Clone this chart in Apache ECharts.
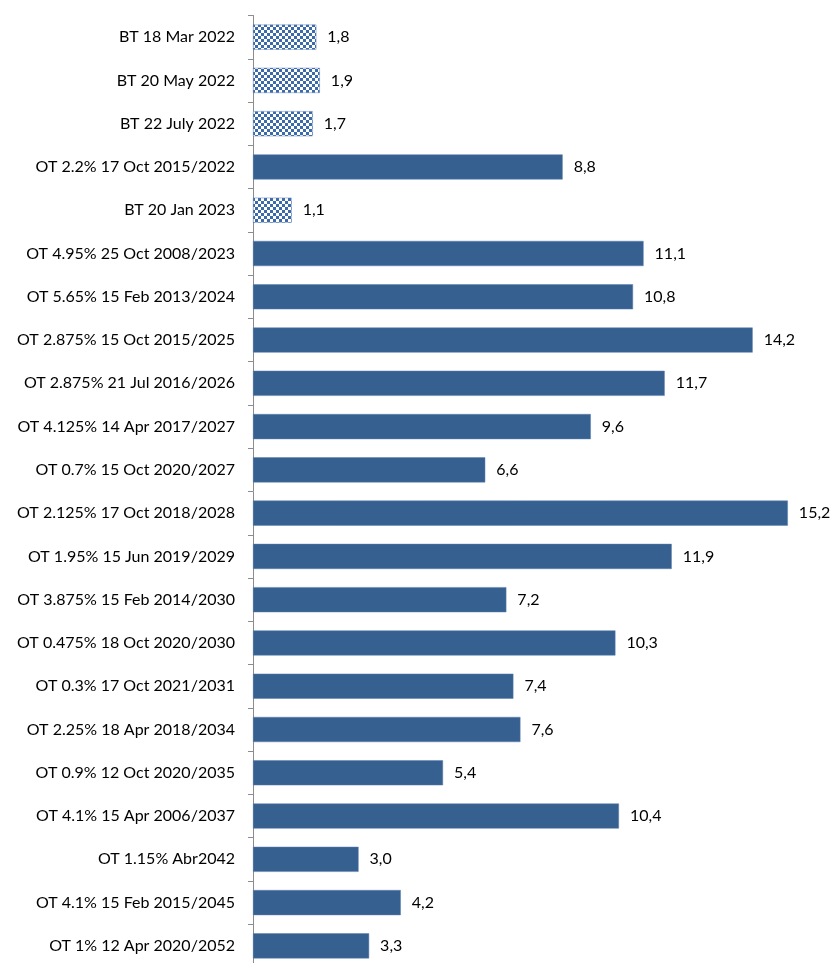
<!DOCTYPE html>
<html>
<head>
<meta charset="utf-8">
<script src="https://cdn.jsdelivr.net/npm/echarts@6/dist/echarts.min.js"></script>
<style>
html, body { margin: 0; padding: 0; background: #ffffff; overflow: hidden; }
#chart { width: 832px; height: 975px; }
</style>
</head>
<body>
<div id="chart"></div>
<script>
// Outstanding amounts by issue
const categories = [
  'BT 18 Mar 2022',
  'BT 20 May 2022',
  'BT 22 July 2022',
  'OT 2.2% 17 Oct 2015/2022',
  'BT 20 Jan 2023',
  'OT 4.95% 25 Oct 2008/2023',
  'OT 5.65% 15 Feb 2013/2024',
  'OT 2.875% 15 Oct 2015/2025',
  'OT 2.875% 21 Jul 2016/2026',
  'OT 4.125% 14 Apr 2017/2027',
  'OT 0.7% 15 Oct 2020/2027',
  'OT 2.125% 17 Oct 2018/2028',
  'OT 1.95% 15 Jun 2019/2029',
  'OT 3.875% 15 Feb 2014/2030',
  'OT 0.475% 18 Oct 2020/2030',
  'OT 0.3% 17 Oct 2021/2031',
  'OT 2.25% 18 Apr 2018/2034',
  'OT 0.9% 12 Oct 2020/2035',
  'OT 4.1% 15 Apr 2006/2037',
  'OT 1.15% Abr2042',
  'OT 4.1% 15 Feb 2015/2045',
  'OT 1% 12 Apr 2020/2052'
];
const values = [1.8, 1.9, 1.7, 8.8, 1.1, 11.1, 10.8, 14.2, 11.7, 9.6, 6.6, 15.2, 11.9, 7.2, 10.3, 7.4, 7.6, 5.4, 10.4, 3.0, 4.2, 3.3];

const BLUE = '#36608f';

// checkerboard fill used for the BT (treasury bill) bars
function checkerPattern() {
  const c = document.createElement('canvas');
  c.width = 6; c.height = 6;
  const g = c.getContext('2d');
  g.fillStyle = '#ffffff';
  g.fillRect(0, 0, 6, 6);
  g.fillStyle = '#3d6aa8';
  g.fillRect(0, 0, 3, 3);
  g.fillRect(3, 3, 3, 3);
  return c;
}
const pattern = { image: checkerPattern(), repeat: 'repeat' };

const seriesData = values.map((v, i) => {
  const isBill = categories[i].startsWith('BT');
  return {
    value: v,
    itemStyle: isBill
      ? { color: pattern, borderColor: '#5a80b8', borderWidth: 0.5 }
      : { color: BLUE, borderColor: '#5a7fb0', borderWidth: 0.5 }
  };
});

const chart = echarts.init(document.getElementById('chart'));
chart.setOption({
  animation: false,
  grid: { left: 253, top: 15.5, right: 16, bottom: 7.5, containLabel: false },
  xAxis: {
    type: 'value',
    min: 0,
    max: 16,
    show: false
  },
  yAxis: {
    type: 'category',
    inverse: true,
    data: categories,
    axisLine: { show: true, lineStyle: { color: '#8c8c8c', width: 1 } },
    axisTick: { show: true, length: 5, lineStyle: { color: '#8c8c8c' } },
    axisLabel: {
      margin: 18,
      color: '#000000',
      fontFamily: 'Lato',
      fontSize: 16
    }
  },
  series: [{
    type: 'bar',
    data: seriesData,
    barCategoryGap: '42%',
    label: {
      show: true,
      position: 'right',
      distance: 11,
      color: '#000000',
      fontFamily: 'Lato',
      fontSize: 16,
      formatter: p => p.value.toFixed(1).replace('.', ',')
    }
  }]
});
</script>
</body>
</html>
